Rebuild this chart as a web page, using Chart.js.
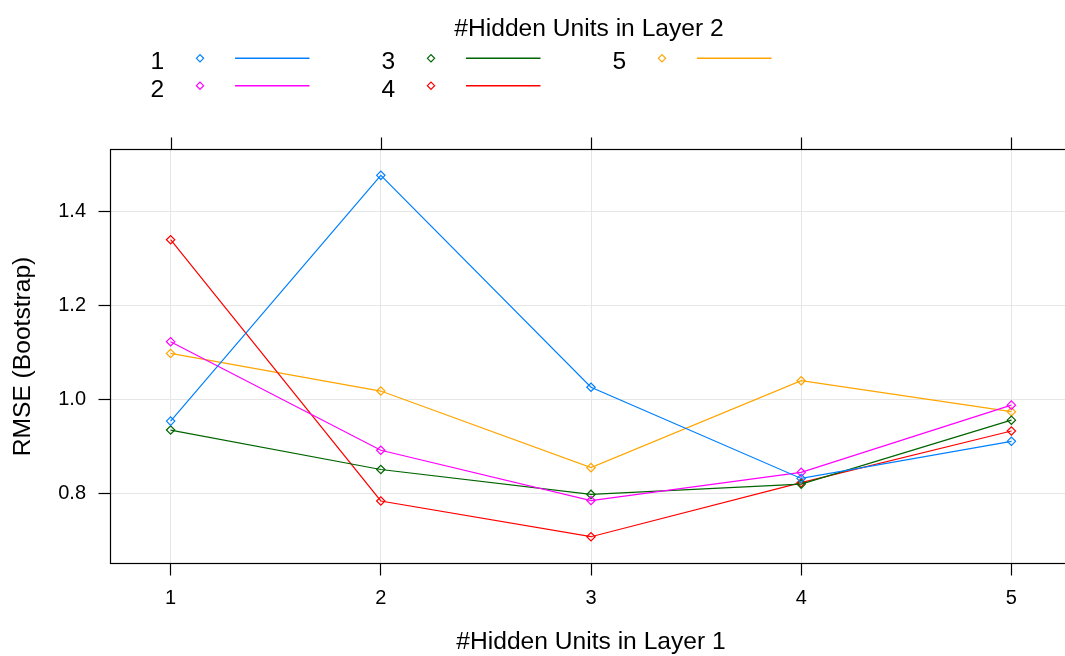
<!DOCTYPE html>
<html>
<head>
<meta charset="utf-8">
<script src="https://cdn.jsdelivr.net/npm/chart.js@4/dist/chart.umd.min.js"></script>
<style>
  html, body { margin: 0; padding: 0; background: #ffffff; overflow: hidden; width: 1065px; height: 656px; }
  #wrap { width: 1080px; height: 656px; }
  canvas { display: block; }
</style>
</head>
<body>
<div id="wrap"><canvas id="c" width="1080" height="656"></canvas></div>
<script>
// #Hidden units in layer 1 (x positions)
const layer1Units = [1, 2, 3, 4, 5];

// Bootstrap RMSE for each number of hidden units in layer 2
const rmseLayer2_1 = [0.954, 1.477, 1.026, 0.832, 0.911];
const rmseLayer2_2 = [1.123, 0.892, 0.785, 0.845, 0.988];
const rmseLayer2_3 = [0.935, 0.851, 0.798, 0.820, 0.956];
const rmseLayer2_4 = [1.340, 0.784, 0.708, 0.823, 0.933];
const rmseLayer2_5 = [1.098, 1.018, 0.855, 1.040, 0.974];

const seriesNames = ['1', '2', '3', '4', '5'];
const seriesColors = ['#0080ff', '#ff00ff', '#006400', '#ff0000', '#ffa500'];

const xTickValues = [1, 2, 3, 4, 5];
const yTickValues = [0.8, 1.0, 1.2, 1.4];

const FONT = '"Liberation Sans", Arial, sans-serif';
const seriesValues = [rmseLayer2_1, rmseLayer2_2, rmseLayer2_3, rmseLayer2_4, rmseLayer2_5];

const datasets = seriesValues.map((vals, i) => ({
  label: seriesNames[i],
  data: layer1Units.map((x, j) => ({ x: x, y: vals[j] })),
  borderColor: seriesColors[i],
  backgroundColor: 'rgba(0,0,0,0)',
  pointBorderColor: seriesColors[i],
  pointBackgroundColor: 'rgba(0,0,0,0)',
  pointStyle: 'rectRot',
  pointRadius: 4.2,
  pointBorderWidth: 1.2,
  borderWidth: 1.2,
  tension: 0
}));

// lattice-style frame with outward tick marks on the top edge too
const framePlugin = {
  id: 'frame',
  afterDatasetsDraw(chart) {
    const { ctx, chartArea: a, scales } = chart;
    ctx.save();
    ctx.strokeStyle = '#000';
    ctx.lineWidth = 1.2;
    ctx.strokeRect(a.left, a.top, a.right - a.left, a.bottom - a.top);
    ctx.beginPath();
    xTickValues.forEach(v => {
      const px = Math.round(scales.x.getPixelForValue(v)) + 0.5;
      ctx.moveTo(px, a.top - 12);
      ctx.lineTo(px, a.top);
    });
    ctx.stroke();
    ctx.restore();
  }
};

// key above the panel: title, then numbers / markers / lines in three columns
const keyPlugin = {
  id: 'key',
  afterDraw(chart) {
    const { ctx } = chart;
    ctx.save();
    ctx.fillStyle = '#000';
    ctx.font = '24.6px ' + FONT;
    ctx.textAlign = 'center';
    ctx.textBaseline = 'alphabetic';
    ctx.fillText('#Hidden Units in Layer 2', 589, 36);
    const rows = 2, colStep = 231, rowStep = 27.4;
    seriesNames.forEach((name, i) => {
      const col = Math.floor(i / rows), row = i % rows;
      const dx = col * colStep, dy = row * rowStep;
      ctx.fillStyle = '#000';
      ctx.textAlign = 'left';
      ctx.fillText(name, 150.5 + dx, 69.3 + dy);
      const my = 58.3 + dy, mx = 200 + dx, r = 3.6;
      ctx.strokeStyle = seriesColors[i];
      ctx.lineWidth = 1.2;
      ctx.beginPath();
      ctx.moveTo(mx - r, my);
      ctx.lineTo(mx, my - r);
      ctx.lineTo(mx + r, my);
      ctx.lineTo(mx, my + r);
      ctx.closePath();
      ctx.stroke();
      ctx.lineWidth = 1.6;
      ctx.beginPath();
      ctx.moveTo(235 + dx, my);
      ctx.lineTo(309.5 + dx, my);
      ctx.stroke();
    });
    ctx.restore();
  }
};

new Chart(document.getElementById('c'), {
  type: 'line',
  data: { datasets: datasets },
  options: {
    responsive: false,
    animation: false,
    devicePixelRatio: 1,
    layout: { padding: { top: 149.5, right: 8.5, left: 0, bottom: 0 } },
    plugins: {
      legend: { display: false },
      tooltip: { enabled: false }
    },
    scales: {
      x: {
        type: 'linear',
        min: 0.714,
        max: 5.286,
        afterBuildTicks(scale) { scale.ticks = xTickValues.map(v => ({ value: v })); },
        afterFit(scale) { scale.height = 92.5; },
        border: { display: false },
        grid: { color: '#e6e6e6', lineWidth: 1, drawTicks: true, tickLength: 12, tickColor: '#000', tickWidth: 1.2 },
        ticks: {
          padding: 11,
          color: '#000',
          font: { family: FONT, size: 20 },
          maxRotation: 0,
          callback: v => String(v)
        },
        title: {
          display: true,
          text: '#Hidden Units in Layer 1',
          color: '#000',
          font: { family: FONT, size: 24.6, lineHeight: 1 },
          padding: { top: 0, bottom: 1 }
        }
      },
      y: {
        type: 'linear',
        min: 0.651,
        max: 1.532,
        afterBuildTicks(scale) { scale.ticks = yTickValues.map(v => ({ value: v })); },
        afterFit(scale) { scale.width = 110.5; },
        border: { display: false },
        grid: { color: '#e6e6e6', lineWidth: 1, drawTicks: true, tickLength: 12, tickColor: '#000', tickWidth: 1.2 },
        ticks: {
          padding: 12.5,
          color: '#000',
          font: { family: FONT, size: 20 },
          callback: v => Number(v).toFixed(1)
        },
        title: {
          display: true,
          text: 'RMSE (Bootstrap)',
          color: '#000',
          font: { family: FONT, size: 24.6, lineHeight: 1 },
          padding: { top: 10.5, bottom: 0 }
        }
      }
    }
  },
  plugins: [framePlugin, keyPlugin]
});
</script>
</body>
</html>
